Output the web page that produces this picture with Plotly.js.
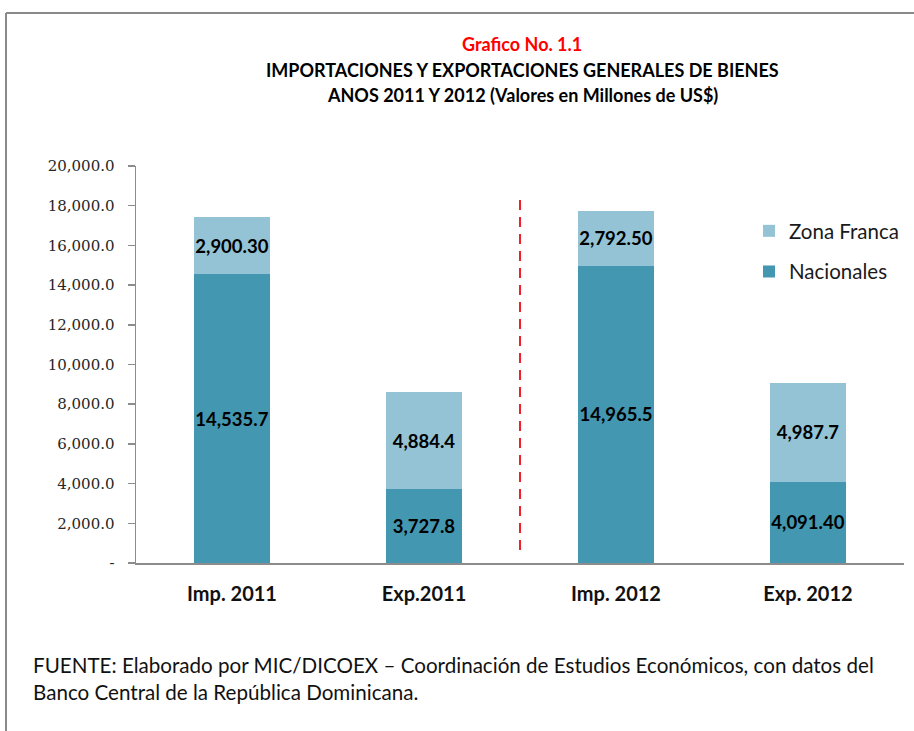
<!DOCTYPE html>
<html>
<head>
<meta charset="utf-8">
<script src="https://cdn.plot.ly/plotly-3.0.1.min.js"></script>
<style>
  body { margin: 0; background: #fff; }
  #chart { width: 914px; height: 731px; }
</style>
</head>
<body>
<div id="chart"></div>
<script>
// data
const categories = ['Imp. 2011', 'Exp.2011', 'Imp. 2012', 'Exp. 2012'];
const nacionales = [14535.7, 3727.8, 14965.5, 4091.4];
const zonaFranca = [2900.3, 4884.4, 2792.5, 4987.7];
const nacionalesLabels = ['14,535.7', '3,727.8', '14,965.5', '4,091.40'];
const zonaFrancaLabels = ['2,900.30', '4,884.4', '2,792.50', '4,987.7'];
const yTickVals = [0, 2000, 4000, 6000, 8000, 10000, 12000, 14000, 16000, 18000, 20000];
const yTickText = ['-', '2,000.0', '4,000.0', '6,000.0', '8,000.0', '10,000.0',
                   '12,000.0', '14,000.0', '16,000.0', '18,000.0', '20,000.0'];

// plot area in pixels: x 136..904, y 166..563
const L = 136, R = 904, T = 166, B = 563;
const px = x => (x - L) / (R - L);
const py = y => (B - y) / (B - T);

const sansFont = 'Lato, "Open Sans", sans-serif';
const labelFont = { family: sansFont, size: 18.5, color: '#000', weight: 'bold' };

const traces = [
    {
        type: 'bar',
        name: 'Nacionales',
        x: categories,
        y: nacionales,
        text: nacionalesLabels,
        textposition: 'inside',
        insidetextanchor: 'middle',
        textangle: 0,
        constraintext: 'none',
        textfont: labelFont,
        width: 0.4,
        marker: { color: '#4397B0', line: { width: 0 } },
        legendgroup: 'a',
        legendrank: 2,
        hoverinfo: 'none'
    },
    {
        type: 'bar',
        name: 'Zona Franca',
        x: categories,
        y: zonaFranca,
        text: zonaFrancaLabels,
        textposition: 'inside',
        insidetextanchor: 'middle',
        textangle: 0,
        constraintext: 'none',
        textfont: labelFont,
        width: 0.4,
        marker: { color: '#93C3D5', line: { width: 0 } },
        legendgroup: 'b',
        legendrank: 1,
        hoverinfo: 'none'
    }
];

const titleX = px(522);
const titleFont = { family: sansFont, size: 18, color: '#000', weight: 'bold' };
const footFont = { family: sansFont, size: 20.6, color: '#111' };

const layout = {
    width: 914,
    height: 731,
    margin: { l: L, r: 914 - R, t: T, b: 731 - B, pad: 0, autoexpand: false },
    paper_bgcolor: '#fff',
    plot_bgcolor: '#fff',
    barmode: 'stack',
    showlegend: true,
    legend: {
        x: px(749),
        y: py(211),
        xanchor: 'left',
        yanchor: 'top',
        traceorder: 'grouped',
        tracegroupgap: 11,
        font: { family: sansFont, size: 20.5, color: '#1a1a1a' },
        bgcolor: 'rgba(0,0,0,0)'
    },
    xaxis: {
        type: 'category',
        range: [-0.5, 3.5],
        showline: true,
        linecolor: '#8c8c8c',
        linewidth: 1.5,
        ticks: '',
        ticklabelstandoff: 12,
        tickfont: { family: sansFont, size: 20, color: '#111', weight: 'bold' },
        showgrid: false,
        zeroline: false,
        fixedrange: true
    },
    yaxis: {
        range: [0, 20000],
        tickvals: yTickVals,
        ticktext: yTickText,
        showline: true,
        linecolor: '#8c8c8c',
        linewidth: 1.5,
        ticks: 'outside',
        ticklen: 7,
        tickwidth: 1.5,
        tickcolor: '#8c8c8c',
        ticklabelstandoff: 10,
        tickfont: { family: '"DejaVu Serif", serif', size: 15, color: '#262626' },
        showgrid: false,
        zeroline: false,
        fixedrange: true
    },
    shapes: [
        // outer frame (top and left)
        { type: 'line', xref: 'paper', yref: 'paper', x0: px(6), x1: px(914), y0: py(13), y1: py(13),
          line: { color: '#8a8a8a', width: 2 } },
        { type: 'line', xref: 'paper', yref: 'paper', x0: px(6), x1: px(6), y0: py(13), y1: py(731),
          line: { color: '#8a8a8a', width: 2 } },
        // red divider between 2011 and 2012
        { type: 'line', xref: 'x', yref: 'paper', x0: 1.5, x1: 1.5, y0: py(550), y1: py(195),
          line: { color: '#f0202a', width: 2, dash: '10px,7px' } }
    ],
    annotations: [
        { text: 'Grafico No. 1.1', xref: 'paper', yref: 'paper', x: titleX, y: py(44),
          showarrow: false, xanchor: 'center', yanchor: 'middle',
          font: Object.assign({}, titleFont, { color: '#ff0000' }) },
        { text: 'IMPORTACIONES Y EXPORTACIONES GENERALES DE BIENES', xref: 'paper', yref: 'paper',
          x: titleX, y: py(70), showarrow: false, xanchor: 'center', yanchor: 'middle',
          font: titleFont },
        { text: 'ANOS 2011 Y 2012 (Valores en Millones de US$)', xref: 'paper', yref: 'paper',
          x: titleX, y: py(95), showarrow: false, xanchor: 'center', yanchor: 'middle',
          font: titleFont },
        { text: 'FUENTE: Elaborado por MIC/DICOEX \u2013 Coordinación de Estudios Económicos, con datos del',
          xref: 'paper', yref: 'paper', x: px(31), y: py(665), showarrow: false,
          xanchor: 'left', yanchor: 'middle', font: footFont },
        { text: 'Banco Central de la República Dominicana.',
          xref: 'paper', yref: 'paper', x: px(31), y: py(692), showarrow: false,
          xanchor: 'left', yanchor: 'middle', font: footFont }
    ]
};

Plotly.newPlot('chart', traces, layout, { displayModeBar: false, staticPlot: true });
</script>
</body>
</html>
